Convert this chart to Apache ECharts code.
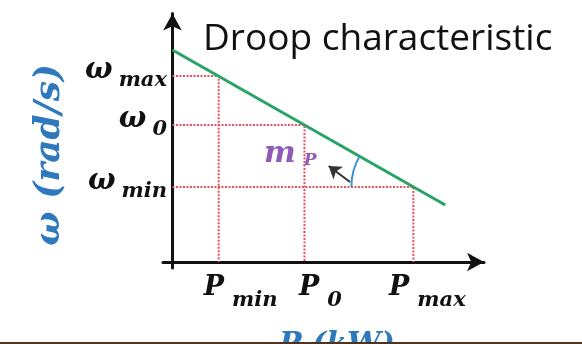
<!DOCTYPE html>
<html>
<head>
<meta charset="utf-8">
<script src="https://cdn.jsdelivr.net/npm/echarts@6/dist/echarts.min.js"></script>
<style>
  html, body { margin: 0; padding: 0; background: #ffffff; }
  #chart { width: 582px; height: 344px; }
</style>
</head>
<body>
<div id="chart"></div>
<script>
// Droop characteristic: frequency (ω) against active power (P)
const pTickValues = [2.1, 6.0, 10.95];
const pTickNames = ['min', '0', 'max'];
const omegaTickValues = [18.6, 13.7, 7.5];
const omegaTickNames = ['max', '0', 'min'];
const droopLine = [[0, 21.2], [12.4, 5.7]];
const slopeArrow = [[8.07, 8.0], [7.1, 9.6]];
const slopeNote = [5.35, 10.8];

const serif = 'DejaVu Serif';
const red = '#e8505f';

// dotted guide from the ω axis to the droop line and down to the P axis
const guideSeries = pTickValues.map((p, i) => ({
  type: 'line',
  data: [[0, omegaTickValues[i]], [p, omegaTickValues[i]], [p, 0]],
  symbol: 'none',
  silent: true,
  z: 2,
  lineStyle: { color: red, width: 2, type: [2, 1.5] }
}));

const chart = echarts.init(document.getElementById('chart'), null, { renderer: 'canvas' });

chart.setOption({
  animation: false,
  backgroundColor: '#ffffff',
  title: {
    text: 'Droop characteristic',
    left: 203,
    top: 19,
    padding: 0,
    textStyle: { fontFamily: 'Open Sans', fontSize: 37, lineHeight: 40, fontWeight: 'normal', color: '#111111' }
  },
  grid: { left: 163, right: 98, top: 13.5, bottom: 76, containLabel: false, outerBoundsMode: 'none' },
  xAxis: {
    type: 'value',
    min: -0.43,
    max: 14.16,
    name: 'P (kW)',
    nameLocation: 'middle',
    nameGap: 62,
    nameTextStyle: {
      fontFamily: serif, fontSize: 30, fontWeight: 'bold', fontStyle: 'italic',
      color: '#2e78bd', padding: [0, 0, 0, 27]
    },
    axisLine: {
      onZero: true,
      symbol: ['none', 'arrow'],
      symbolSize: [14, 17],
      lineStyle: { color: '#111111', width: 3 }
    },
    axisTick: { show: false },
    splitLine: { show: false },
    axisLabel: {
      customValues: pTickValues,
      margin: -4,
      formatter: function (v) {
        const i = pTickValues.indexOf(v);
        return '{p' + i + '|P}{s|' + pTickNames[i] + '}';
      },
      rich: {
        p0: { fontFamily: serif, fontSize: 27, fontWeight: 'bold', fontStyle: 'italic', color: '#111', padding: [0, 8, 0, 44] },
        p1: { fontFamily: serif, fontSize: 27, fontWeight: 'bold', fontStyle: 'italic', color: '#111', padding: [0, 8, 0, 32] },
        p2: { fontFamily: serif, fontSize: 27, fontWeight: 'bold', fontStyle: 'italic', color: '#111', padding: [0, 8, 0, 28] },
        s: { fontFamily: serif, fontSize: 21, fontWeight: 'bold', fontStyle: 'italic', color: '#111', padding: [26, 0, 0, 0] }
      }
    }
  },
  yAxis: {
    type: 'value',
    min: -0.6,
    max: 24.85,
    name: 'ω (rad/s)',
    nameLocation: 'middle',
    nameGap: 95,
    nameTextStyle: {
      fontFamily: serif, fontSize: 36, fontWeight: 'bold', fontStyle: 'italic',
      color: '#2e78bd', padding: [0, 28, 0, 0]
    },
    axisLine: {
      onZero: true,
      symbol: ['none', 'arrow'],
      symbolSize: [14, 17],
      lineStyle: { color: '#111111', width: 3 }
    },
    axisTick: { show: false },
    splitLine: { show: false },
    axisLabel: {
      customValues: omegaTickValues,
      margin: -4,
      formatter: function (v) {
        const i = omegaTickValues.indexOf(v);
        return '{w|ω}{s|' + omegaTickNames[i] + '}';
      },
      rich: {
        w: { fontFamily: serif, fontSize: 29, fontWeight: 'bold', fontStyle: 'italic', color: '#111', padding: [0, 6, 12, 0] },
        s: { fontFamily: serif, fontSize: 21, fontWeight: 'bold', fontStyle: 'italic', color: '#111', padding: [10, 0, 0, 0] }
      }
    }
  },
  series: guideSeries.concat([
    {
      type: 'line',
      data: droopLine,
      symbol: 'none',
      silent: true,
      z: 3,
      lineStyle: { color: '#27a464', width: 3 }
    },
    {
      type: 'line',
      data: [],
      silent: true,
      markLine: {
        silent: true,
        symbol: ['none', 'arrow'],
        symbolSize: [12, 12],
        label: { show: false },
        lineStyle: { color: '#333333', width: 2, type: 'solid' },
        data: [[{ coord: slopeArrow[0] }, { coord: slopeArrow[1] }]]
      }
    },
    {
      type: 'scatter',
      data: [slopeNote],
      symbolSize: 0,
      silent: true,
      label: {
        show: true,
        position: 'inside',
        formatter: '{m|m}{p|P}',
        rich: {
          m: { fontFamily: serif, fontSize: 30, fontWeight: 'bold', fontStyle: 'italic', color: '#7232a4', padding: [0, 8, 0, 0] },
          p: { fontFamily: serif, fontSize: 17, fontWeight: 'bold', fontStyle: 'italic', color: '#7232a4', padding: [14, 0, 0, 0] }
        }
      }
    }
  ])
});

// slope angle arc at (P_max, ω_min) and the frame rule along the bottom edge
const corner = chart.convertToPixel({ gridIndex: 0 }, [pTickValues[2], omegaTickValues[2]]);
const lineA = chart.convertToPixel({ gridIndex: 0 }, droopLine[0]);
const lineB = chart.convertToPixel({ gridIndex: 0 }, droopLine[1]);
const tilt = Math.atan2(lineB[1] - lineA[1], lineB[0] - lineA[0]);

chart.setOption({
  graphic: [
    {
      type: 'arc',
      z: 50,
      silent: true,
      shape: { cx: corner[0], cy: corner[1], r: 62, startAngle: Math.PI, endAngle: Math.PI + tilt, clockwise: true },
      style: { stroke: '#3b8fd3', lineWidth: 2, fill: null }
    },
    {
      type: 'rect',
      z: 100,
      left: 0,
      bottom: 0,
      silent: true,
      shape: { width: 582, height: 2 },
      style: { fill: '#50321f' }
    }
  ]
});
</script>
</body>
</html>
